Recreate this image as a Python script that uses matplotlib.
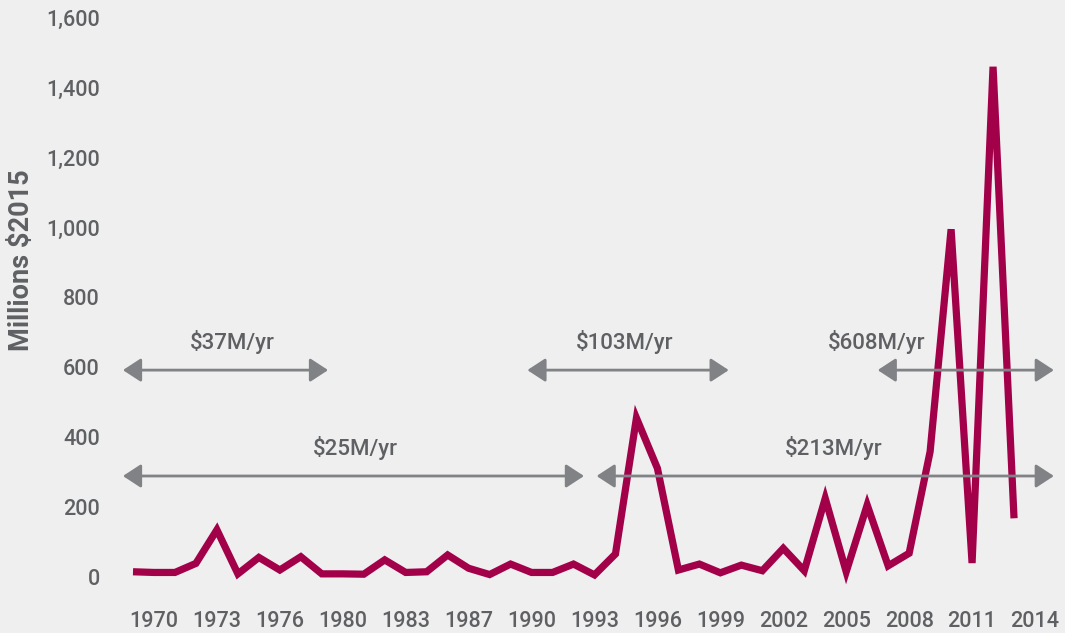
import matplotlib
matplotlib.use("Agg")
import matplotlib.pyplot as plt
import numpy as np

# values, one per point along the line
values = [15, 13, 13, 39, 135, 9, 56, 20, 58, 9, 9, 8, 49, 13, 15, 63,
          25, 7, 37, 13, 13, 37, 6, 66, 455, 311, 20, 37, 12, 34,
          18, 82, 18, 225, 15, 206, 32, 68, 359, 995, 40, 1460, 168]
tick_labels = ["1970", "1973", "1976", "1980", "1983", "1987", "1990", "1993",
               "1996", "1999", "2002", "2005", "2008", "2011", "2014"]
y_ticks = [0, 200, 400, 600, 800, 1000, 1200, 1400, 1600]

# average-per-year bands: (label, start, end, row)
bands = [("$37M/yr", -0.48, 9.3, "upper"),
         ("$103M/yr", 18.8, 28.4, "upper"),
         ("$608M/yr", 35.5, 43.9, "upper"),
         ("$25M/yr", -0.48, 21.5, "lower"),
         ("$213M/yr", 22.1, 43.9, "lower")]
band_text_x = [4.72, 23.45, 35.47, 10.58, 33.4]

BG = "#EEEFEE"
LINE = "#A3004A"
TXT = "#5F6063"
ARR = "#818286"

plt.rcParams['font.family'] = ['Roboto', 'DejaVu Sans']

fig = plt.figure(figsize=(10.65, 6.33), dpi=100, facecolor=BG)
ax = fig.add_axes([118 / 1065, 33 / 633, 947 / 1065, 600 / 633])
ax.set_facecolor(BG)

x = np.arange(len(values))
ax.plot(x, values, color=LINE, lw=5.2, solid_joinstyle="miter", solid_capstyle="butt")

row_y = {"upper": 592, "lower": 289}
for (label, x0, x1, row), tx in zip(bands, band_text_x):
    yy = row_y[row]
    ax.annotate("", xy=(x1, yy), xytext=(x0, yy), annotation_clip=False,
                arrowprops=dict(arrowstyle="<|-|>,head_length=0.55,head_width=0.36",
                                color=ARR, lw=2, shrinkA=0, shrinkB=0,
                                mutation_scale=20))
    ax.text(tx, yy + 80, label, ha="center", va="center", fontsize=16,
            fontweight="medium", color=TXT)

ax.set_xlim(-0.715, 44.43)
ax.set_ylim(-65.8, 1651)
ax.set_xticks(np.arange(1, 44, 3))
ax.set_xticklabels(tick_labels)
ax.set_yticks(y_ticks)
ax.set_yticklabels([f"{v:,}" for v in y_ticks])
ax.tick_params(length=0, labelsize=15.5, labelcolor=TXT)
for lab in ax.get_xticklabels() + ax.get_yticklabels():
    lab.set_fontweight("medium")
ax.tick_params(axis="y", pad=13)
ax.tick_params(axis="x", pad=8)
for s in ax.spines.values():
    s.set_visible(False)

ax.set_ylabel("Millions $2015", fontsize=19.5, fontweight="bold", color=TXT)
ax.yaxis.set_label_coords(-0.088, 0.567)

fig.savefig("out.png", dpi=100, facecolor=BG)
